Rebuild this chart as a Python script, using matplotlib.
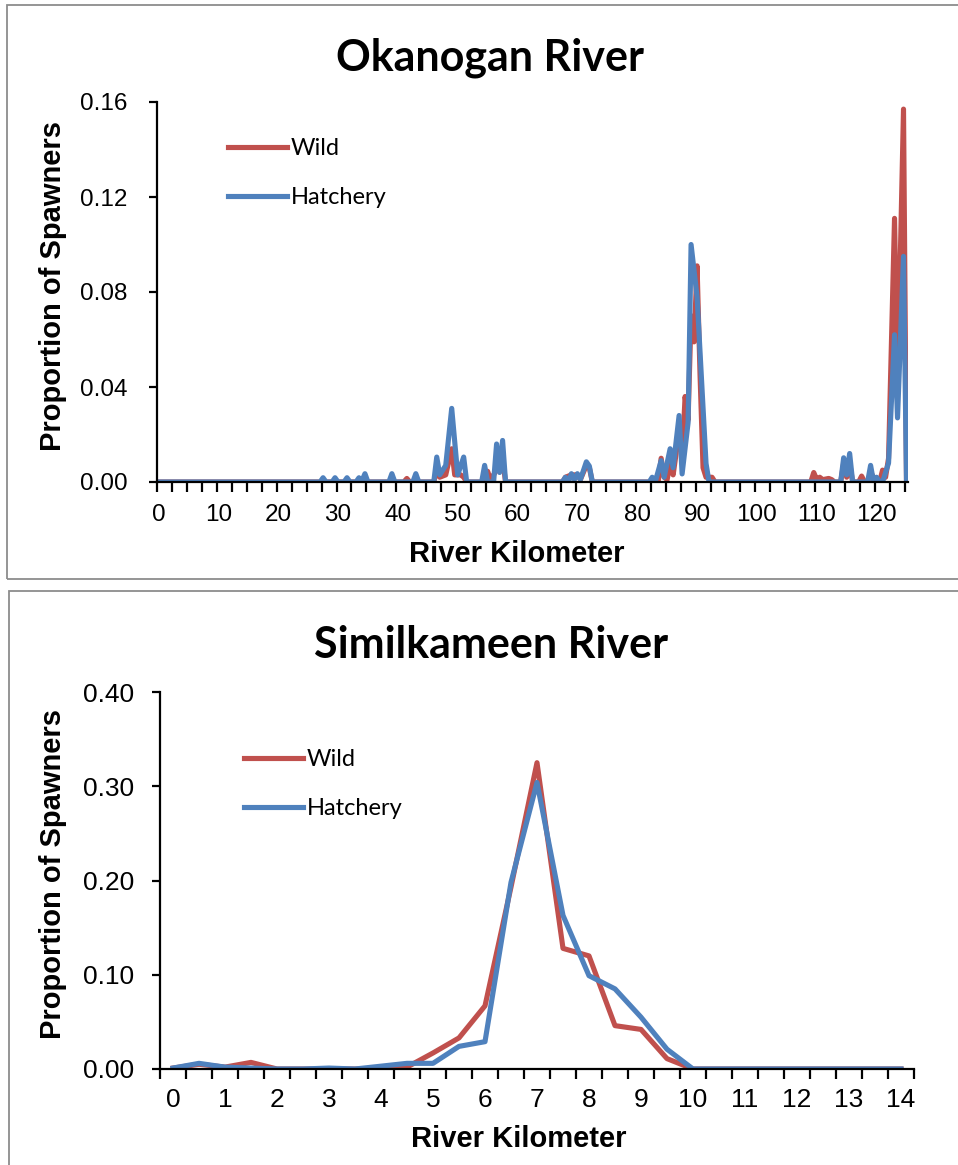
import matplotlib
matplotlib.use("Agg")
import matplotlib.pyplot as plt
from matplotlib.patches import Rectangle
from matplotlib.ticker import FixedLocator, FormatStrFormatter

# ---- Okanogan River (river km, proportion) : breakpoints ----
oka_wild_km = [0, 27, 27.5, 28, 34, 34.5, 35, 41, 41.5, 42, 46, 46.5, 47, 48, 49, 49.5,
               50.5, 51, 51.5, 54.5, 55, 55.5, 56.5, 57.5, 58, 67.5, 68, 69, 70, 70.5,
               71.5, 72, 72.5, 83.5, 84, 84.5, 85, 85.5, 86, 86.5, 87, 87.5, 88, 88.5,
               89, 89.5, 90, 90.5, 91, 91.5, 92.5, 93, 109, 109.5, 110, 110.5, 111, 112,
               112.5, 113, 114, 114.5, 115, 115.5, 116, 117, 117.5, 118, 118.5, 119, 120,
               120.5, 121, 121.5, 122, 123, 123.5, 124.5, 125]
oka_wild = [0, 0, 0.0005, 0, 0, 0.001, 0, 0, 0.0015, 0, 0, 0.005, 0.002, 0.003, 0.014, 0.003,
            0.003, 0.002, 0, 0, 0.0045, 0.001, 0.005, 0.0096, 0, 0, 0.002, 0.003, 0.003, 0.001,
            0.007, 0.006, 0, 0, 0.010, 0.002, 0.001, 0.008, 0.003, 0.012, 0.025, 0.010, 0.036, 0.026,
            0.070, 0.059, 0.091, 0.045, 0.006, 0.002, 0.002, 0, 0, 0.004, 0.001, 0.002, 0.001, 0.0015,
            0.001, 0, 0, 0.008, 0.002, 0.008, 0, 0, 0.0025, 0, 0, 0.004, 0,
            0, 0.005, 0.002, 0.010, 0.111, 0.040, 0.157, 0]

oka_hatch_km = [0, 27, 27.5, 28, 29, 29.5, 30, 31, 31.5, 32, 33, 33.5, 34, 34.5, 35, 38.5, 39,
                39.5, 42.5, 43, 43.5, 46, 46.5, 47, 48, 49, 50, 51, 51.5, 54, 54.5, 55, 56,
                56.5, 57, 57.5, 58, 67.5, 68, 68.5, 69, 69.5, 70, 70.5, 71.5, 72, 72.5, 82,
                82.5, 83, 84, 84.5, 85.5, 86, 87, 87.5, 88.5, 89, 90, 91.5, 92, 114, 114.5,
                115, 115.5, 116, 118.5, 119, 119.5, 120, 120.5, 121, 122, 123, 123.5, 124.5, 125]
oka_hatch = [0, 0, 0.0018, 0, 0, 0.0018, 0, 0, 0.0018, 0, 0, 0.0018, 0.0005, 0.0035, 0, 0, 0.0035,
             0, 0, 0.0035, 0, 0, 0.0105, 0.003, 0.007, 0.031, 0.003, 0.0105, 0, 0, 0.007, 0, 0,
             0.016, 0.004, 0.0175, 0, 0, 0.002, 0, 0.0035, 0.001, 0.0035, 0.001, 0.0085, 0.0067, 0, 0,
             0.002, 0, 0.009, 0.002, 0.014, 0.006, 0.028, 0.0034, 0.025, 0.100, 0.078, 0.0078, 0, 0, 0.0102,
             0.003, 0.012, 0, 0, 0.007, 0, 0.002, 0, 0, 0.008, 0.062, 0.027, 0.095, 0]

oka_xticks = [0, 10, 20, 30, 40, 50, 60, 70, 80, 90, 100, 110, 120]
oka_yticks = [0.00, 0.04, 0.08, 0.12, 0.16]

# ---- Similkameen River ----
sim_km = [0, 0.5, 1, 1.5, 2, 2.5, 3, 3.5, 4, 4.5, 5, 5.5, 6, 6.5, 7, 7.5, 8, 8.5, 9, 9.5,
          10, 10.5, 11, 11.5, 12, 12.5, 13, 13.5, 14]
sim_wild = [0.001, 0.005, 0.002, 0.007, 0.0, 0.0, 0.0, 0.0, 0.001, 0.002, 0.017, 0.033, 0.067,
            0.193, 0.325, 0.128, 0.120, 0.046, 0.042, 0.011, 0, 0, 0, 0, 0, 0, 0, 0, 0]
sim_hatch = [0.001, 0.006, 0.002, 0.001, 0.0, 0.0, 0.001, 0.0, 0.003, 0.006, 0.006, 0.024, 0.029,
             0.198, 0.304, 0.163, 0.099, 0.085, 0.055, 0.021, 0, 0, 0, 0, 0, 0, 0, 0, 0]
sim_xticks = list(range(0, 15))
sim_yticks = [0.00, 0.10, 0.20, 0.30, 0.40]

RED = "#C0504D"
BLUE = "#4F81BD"
W, H = 958, 1165
LW = 3.7

fig = plt.figure(figsize=(W / 100, H / 100), dpi=100)
fig.patch.set_facecolor("white")

# panel frames
fig.add_artist(Rectangle((7 / W, 1 - 579 / H), 1.0, 574 / H, transform=fig.transFigure,
                         fill=False, edgecolor="#8c8c8c", linewidth=1.3))
fig.add_artist(Rectangle((9 / W, -0.01), 1.0, 1 - 591 / H + 0.01, transform=fig.transFigure,
                         fill=False, edgecolor="#8c8c8c", linewidth=1.3))


def style_axes(ax, ylim, yticks, xlim, minor_step, xticks, tick_size, ypad, xpad):
    for s in ["top", "right"]:
        ax.spines[s].set_visible(False)
    for s in ["left", "bottom"]:
        ax.spines[s].set_linewidth(1.6)
        ax.spines[s].set_color("black")
    ax.set_ylim(*ylim)
    ax.set_xlim(*xlim)
    ax.set_yticks(yticks)
    ax.yaxis.set_major_formatter(FormatStrFormatter("%.2f"))
    ax.set_xticks(xticks)
    minors = []
    v = xlim[0]
    while v <= xlim[1] + 1e-9:
        minors.append(v)
        v += minor_step
    ax.xaxis.set_minor_locator(FixedLocator(minors))
    ax.tick_params(axis="x", which="major", length=0, pad=xpad)
    ax.tick_params(axis="x", which="minor", length=7, width=1.6, direction="out")
    ax.tick_params(axis="y", which="major", length=6, width=1.6, direction="out", pad=ypad)
    for lab in ax.get_xticklabels() + ax.get_yticklabels():
        lab.set_fontfamily("Liberation Sans")
        lab.set_fontsize(tick_size)


# ---- top chart ----
ax1 = fig.add_axes([157 / W, 1 - 482 / H, (908 - 157) / W, 380 / H])
ax1.plot(oka_wild_km, oka_wild, color=RED, lw=LW, label="Wild", solid_joinstyle="round")
ax1.plot(oka_hatch_km, oka_hatch, color=BLUE, lw=LW, label="Hatchery", solid_joinstyle="round")
style_axes(ax1, (0, 0.16), oka_yticks, (-0.25, 125.25), 2.5, oka_xticks, 17.5, 15, 16)
ax1.legend(loc="upper left", bbox_to_anchor=(228 / W, 1 - 138 / H), bbox_transform=fig.transFigure,
           frameon=False, borderpad=0, borderaxespad=0, handlelength=2.5, handletextpad=0.15,
           labelspacing=1.18, prop={"family": "Lato", "size": 17})

# ---- bottom chart ----
ax2 = fig.add_axes([160 / W, 1 - 1069 / H, (914 - 160) / W, 377 / H])
ax2.plot(sim_km, sim_wild, color=RED, lw=LW, label="Wild", solid_joinstyle="round")
ax2.plot(sim_km, sim_hatch, color=BLUE, lw=LW, label="Hatchery", solid_joinstyle="round")
style_axes(ax2, (0, 0.40), sim_yticks, (-0.25, 14.25), 0.5, sim_xticks, 19, 12.5, 14)
ax2.legend(loc="upper left", bbox_to_anchor=(244 / W, 1 - 749 / H), bbox_transform=fig.transFigure,
           frameon=False, borderpad=0, borderaxespad=0, handlelength=2.5, handletextpad=0.15,
           labelspacing=1.18, prop={"family": "Lato", "size": 17})

# titles and axis labels
fig.text(490 / W, 1 - 58 / H, "Okanogan River", ha="center", va="center",
         fontsize=31, fontweight="bold", family="Lato")
fig.text(491 / W, 1 - 645 / H, "Similkameen River", ha="center", va="center",
         fontsize=31, fontweight="bold", family="Lato")
for yc in (286, 874):
    fig.text(53 / W, 1 - yc / H, "Proportion of Spawners", rotation=90, ha="center", va="center",
             fontsize=21, fontweight="bold", family="Liberation Sans")
fig.text(517 / W, 1 - 554 / H, "River Kilometer", ha="center", va="center",
         fontsize=21, fontweight="bold", family="Liberation Sans")
fig.text(519 / W, 1 - 1139 / H, "River Kilometer", ha="center", va="center",
         fontsize=21, fontweight="bold", family="Liberation Sans")

fig.savefig("out.png", dpi=100)
